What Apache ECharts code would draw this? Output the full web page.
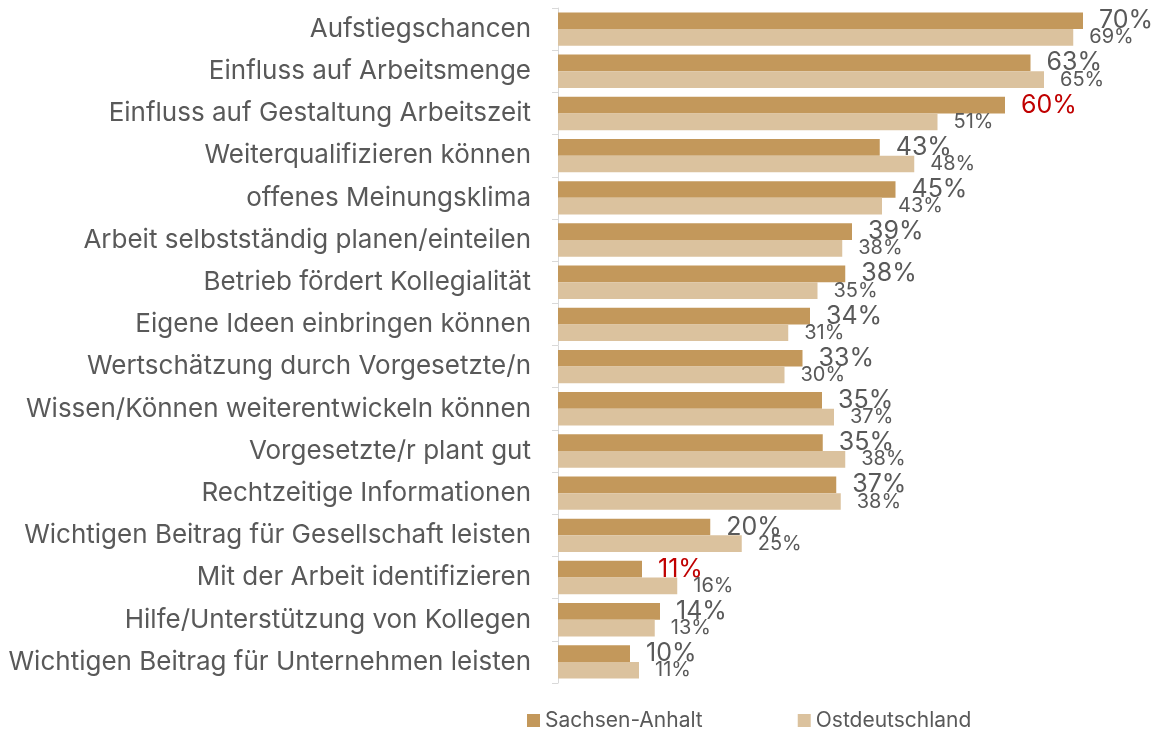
<!DOCTYPE html>
<html>
<head>
    <meta charset="utf-8">
    <title>Arbeitsbedingungen</title>
    <script src="https://cdn.jsdelivr.net/npm/echarts@6/dist/echarts.min.js"></script>
    <style>
        * {
            margin: 0;
            padding: 0;
        }
        html, body {
            background: #fff;
        }
        #main {
            width: 1157px;
            height: 731px;
        }
    </style>
</head>
<body>
<div id="main"></div>
<script>
    // categories, top to bottom
    var categories = [
        'Aufstiegschancen',
        'Einfluss auf Arbeitsmenge',
        'Einfluss auf Gestaltung Arbeitszeit',
        'Weiterqualifizieren können',
        'offenes Meinungsklima',
        'Arbeit selbstständig planen/einteilen',
        'Betrieb fördert Kollegialität',
        'Eigene Ideen einbringen können',
        'Wertschätzung durch Vorgesetzte/n',
        'Wissen/Können weiterentwickeln können',
        'Vorgesetzte/r plant gut',
        'Rechtzeitige Informationen',
        'Wichtigen Beitrag für Gesellschaft leisten',
        'Mit der Arbeit identifizieren',
        'Hilfe/Unterstützung von Kollegen',
        'Wichtigen Beitrag für Unternehmen leisten'
    ];
    var seriesNames = ['Sachsen-Anhalt', 'Ostdeutschland'];

    // bar lengths (percent)
    var sachsenAnhalt = [70, 63, 59.6, 42.9, 45, 39.2, 38.3, 33.6, 32.6, 35.2, 35.3, 37.1, 20.3, 11.2, 13.6, 9.6];
    var ostdeutschland = [68.7, 64.8, 50.6, 47.5, 43.2, 37.9, 34.6, 30.7, 30.2, 36.8, 38.3, 37.7, 24.5, 15.9, 12.9, 10.8];

    // printed labels
    var sachsenLabels = [70, 63, 60, 43, 45, 39, 38, 34, 33, 35, 35, 37, 20, 11, 14, 10];
    var ostLabels = [69, 65, 51, 48, 43, 38, 35, 31, 30, 37, 38, 38, 25, 16, 13, 11];

    // Sachsen-Anhalt labels shown in red
    var redLabels = [2, 13];

    var font = 'Inter, "Open Sans", sans-serif';
    var textColor = '#595959';

    var chart = echarts.init(document.getElementById('main'), null, { renderer: 'canvas' });

    var saData = sachsenAnhalt.map(function (v, i) {
        var d = { value: v };
        if (redLabels.indexOf(i) >= 0) {
            d.label = { color: '#C00000' };
        }
        return d;
    });

    var option = {
        animation: false,
        textStyle: { fontFamily: font },
        color: ['#C3985B', '#DBC29E'],
        legend: {
            data: seriesNames,
            left: 522,
            top: 705,
            icon: 'rect',
            itemWidth: 13,
            itemHeight: 13,
            itemGap: 95,
            textStyle: {
                fontFamily: font,
                fontSize: 21,
                color: textColor
            }
        },
        grid: {
            left: 558,
            right: 74,
            top: 8,
            bottom: 48,
            containLabel: false
        },
        xAxis: {
            type: 'value',
            min: 0,
            max: 70,
            show: false
        },
        yAxis: {
            type: 'category',
            data: categories,
            inverse: true,
            axisLine: { lineStyle: { color: '#D9D9D9', width: 1 } },
            axisTick: { show: true, length: 6, lineStyle: { color: '#D9D9D9' } },
            axisLabel: {
                margin: 27,
                fontFamily: font,
                fontSize: 26,
                color: textColor
            }
        },
        series: [
            {
                name: seriesNames[0],
                type: 'bar',
                data: saData,
                barGap: '0%',
                barCategoryGap: '21%',
                label: {
                    show: true,
                    position: 'right',
                    distance: 16,
                    fontFamily: font,
                    fontSize: 25,
                    color: textColor,
                    formatter: function (p) { return sachsenLabels[p.dataIndex] + '%'; }
                }
            },
            {
                name: seriesNames[1],
                type: 'bar',
                data: ostdeutschland,
                barGap: '0%',
                barCategoryGap: '21%',
                label: {
                    show: true,
                    position: 'right',
                    distance: 16,
                    fontFamily: font,
                    fontSize: 20,
                    color: textColor,
                    formatter: function (p) { return ostLabels[p.dataIndex] + '%'; }
                }
            }
        ]
    };
    chart.setOption(option);
</script>
</body>
</html>
